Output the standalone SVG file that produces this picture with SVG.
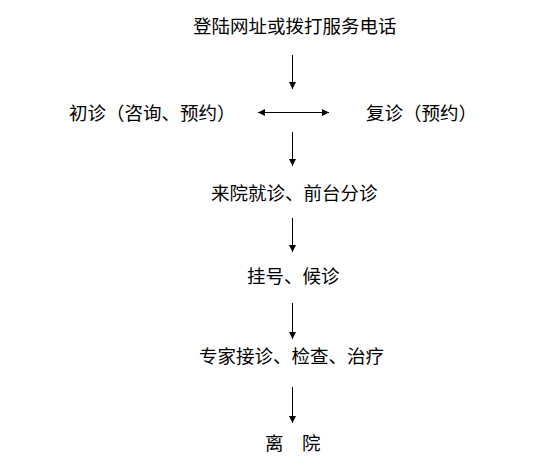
<svg xmlns="http://www.w3.org/2000/svg" width="553" height="474" viewBox="0 0 553 474">
<style>
text{font-family:"Noto Sans CJK SC","Noto Sans CJK JP",sans-serif;font-size:18.5px;fill:#000}
.c{stroke:#000;stroke-width:1;fill:none}
</style>
<defs>
<marker id="ah" viewBox="0 0 10 10" refX="10" refY="5" markerWidth="7" markerHeight="7" markerUnits="userSpaceOnUse" orient="auto-start-reverse">
<path d="M0,0 L10,5 L0,10 z" fill="#000"/>
</marker>
</defs>
<rect width="553" height="474" fill="#fff"/>
<g id="n1"><text x="193" y="33">登陆网址或拨打服务电话</text></g>
<g id="n2"><text x="69" y="120">初诊（咨询、预约）</text></g>
<g id="n3"><text x="366" y="120">复诊（预约）</text></g>
<g id="n4"><text x="211" y="200">来院就诊、前台分诊</text></g>
<g id="n5"><text x="247" y="283">挂号、候诊</text></g>
<g id="n6"><text x="199" y="363">专家接诊、检查、治疗</text></g>
<g id="n7"><text x="265" y="450">离　院</text></g>
<g id="connectors">
<line class="c" x1="292.5" y1="55" x2="292.5" y2="89" marker-end="url(#ah)"/>
<line class="c" x1="258" y1="112.5" x2="329" y2="112.5" marker-start="url(#ah)" marker-end="url(#ah)"/>
<line class="c" x1="292.5" y1="132" x2="292.5" y2="166" marker-end="url(#ah)"/>
<line class="c" x1="292.5" y1="218" x2="292.5" y2="252" marker-end="url(#ah)"/>
<line class="c" x1="292.5" y1="303" x2="292.5" y2="339" marker-end="url(#ah)"/>
<line class="c" x1="292.5" y1="387" x2="292.5" y2="423" marker-end="url(#ah)"/>
</g>
</svg>
